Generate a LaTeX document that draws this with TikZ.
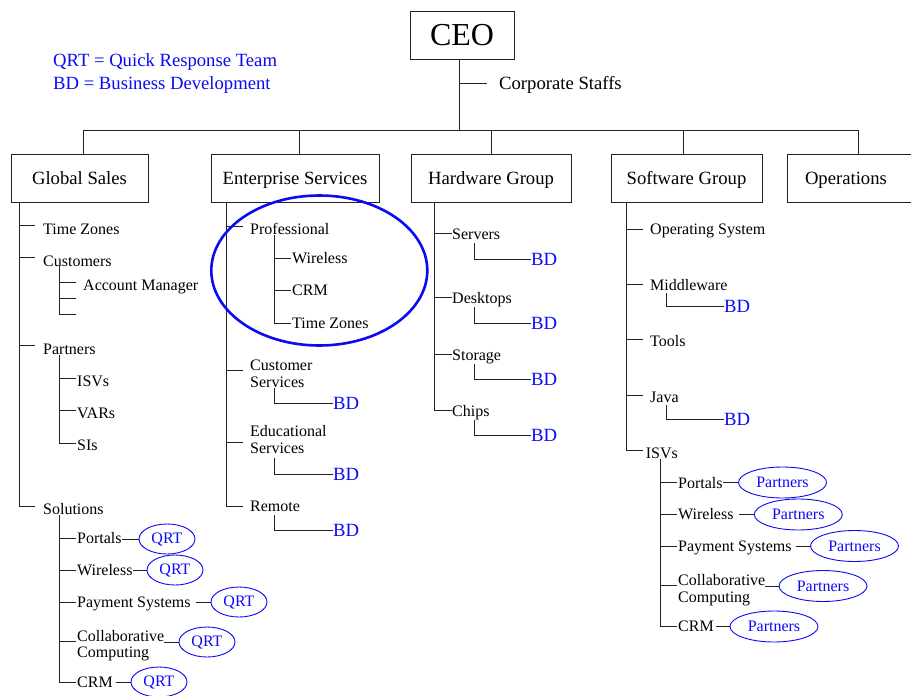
\documentclass[tikz,border=0pt]{standalone}
\usepackage{fontspec}
\setmainfont{Liberation Serif}
\usetikzlibrary{shapes.geometric}
\definecolor{ink}{RGB}{35,35,35}
\definecolor{hl}{RGB}{10,10,245}
\tikzset{
  ln/.style={draw=ink, line width=0.8pt},
  orgbox/.style={draw=ink, line width=1pt, minimum height=48pt, inner sep=0pt,
    font=\fontsize{18.67}{20}\selectfont, text height=12.7pt, text depth=0pt},
  lbl/.style={inner sep=0pt, anchor=base west, font=\fontsize{16}{16.5}\selectfont, align=left},
  big/.style={inner sep=0pt, anchor=base west, font=\fontsize{18.67}{23}\selectfont},
  bdtxt/.style={inner sep=0pt, anchor=west, text=hl, font=\fontsize{18.67}{20}\selectfont},
  qrt/.style={draw=hl, ellipse, line width=0.9pt, text=hl, minimum width=56pt,
    minimum height=30pt, inner sep=0pt, font=\fontsize{16}{17}\selectfont},
  prt/.style={qrt, minimum width=88pt, minimum height=31pt},
}
\begin{document}
\begin{tikzpicture}[x=1pt,y=-1pt]
\useasboundingbox (0,0) rectangle (911,696);

% legend
\node[big, text=hl] (leg1) at (53,66) {QRT = Quick Response Team};
\node[big, text=hl] (leg2) at (53,89) {BD = Business Development};

% top
\node[orgbox, minimum width=104pt, font=\fontsize{32}{34}\selectfont, text height=21pt] (ceo) at (462,35) {CEO};
\node[big] (corp) at (499,89) {Corporate Staffs};
\coordinate (bus) at (459,130);
\draw[ln] (bus |- ceo.south) -- (bus);
\draw[ln] (459,83) -- (487,83);
\draw[ln] (83,130) -- (858,130);

\node[orgbox, minimum width=137pt] (gs) at (79.5,178) {Global Sales};
\node[orgbox, minimum width=168pt] (es) at (295,178) {Enterprise Services};
\node[orgbox, minimum width=160pt] (hw) at (491,178) {Hardware Group};
\node[orgbox, minimum width=151pt] (sw) at (686.5,178) {Software Group};
\node[orgbox, minimum width=135pt, text width=99pt, align=left] (op) at (854.5,178) {Operations};
\draw[ln] (83,130) -- (83,130 |- gs.north);
\draw[ln] (299,130) -- (299,130 |- es.north);
\draw[ln] (491,130) -- (491,130 |- hw.north);
\draw[ln] (683,130) -- (683,130 |- sw.north);
\draw[ln] (858,130) -- (858,130 |- op.north);

% ---------------- Global Sales
\draw[ln] (19,0 |- gs.south) -- (19,506) -- (35,506);
\node[lbl] (gtz) at (43,234) {Time Zones};
\draw[ln] (19,225) -- (35,225);
\node[lbl] (gcu) at (43,266) {Customers};
\draw[ln] (19,257.7) -- (35,257.7);
\draw[ln] (59,266) -- (59,314.3) -- (75.5,314.3);
\draw[ln] (59,282) -- (75.5,282);
\draw[ln] (59,298.7) -- (75.5,298.7);
\node[lbl] (gam) at (83,290.7) {Account Manager};
\node[lbl] (gpa) at (43,354) {Partners};
\draw[ln] (19,345.7) -- (35,345.7);
\draw[ln] (59,355) -- (59,443) -- (76,443);
\draw[ln] (59,378.3) -- (76,378.3);
\draw[ln] (59,410) -- (76,410);
\node[lbl] (gisv) at (77,386) {ISVs};
\node[lbl] (gvar) at (77,418) {VARs};
\node[lbl] (gsi) at (77,450) {SIs};
\node[lbl] (gso) at (43,514) {Solutions};
\draw[ln] (59,515) -- (59,682.3) -- (76,682.3);
\foreach \y in {538.3,570,602.3,641.7} \draw[ln] (59,\y) -- (76,\y);
\node[lbl] (sp1) at (77,543.8) {Portals};
\node[lbl] (sp2) at (77,575.5) {Wireless};
\node[lbl] (sp3) at (77,607.8) {Payment Systems};
\node[lbl] (sp4) at (77,657.5) {Collaborative\\Computing};
\node[lbl] (sp5) at (77,687.8) {CRM};
\node[qrt] (q1) at (167,539) {QRT};
\node[qrt] (q2) at (175,570) {QRT};
\node[qrt] (q3) at (239,602) {QRT};
\node[qrt] (q4) at (207,642) {QRT};
\node[qrt] (q5) at (159,682) {QRT};
\draw[ln] (q1.west -| sp1.east) -- (q1.west);
\draw[ln] (q2.west -| sp2.east) -- (q2.west);
\draw[ln, shorten <=5.5pt] (q3.west -| sp3.east) -- (q3.west);
\draw[ln] (q4.west -| sp4.east) -- (q4.west);
\draw[ln, shorten <=2.7pt] (q5.west -| sp5.east) -- (q5.west);

% ---------------- Enterprise Services
\draw[ln] (226.7,0 |- es.south) -- (226.7,506) -- (242.7,506);
\node[lbl] (epr) at (250,234.3) {Professional};
\draw[ln] (226.7,226) -- (242.7,226);
\draw[ln] (274.7,235) -- (274.7,323.3) -- (290.7,323.3);
\draw[ln] (274.7,258.3) -- (290.7,258.3);
\draw[ln] (274.7,290) -- (290.7,290);
\node[lbl] (ewl) at (292,263.5) {Wireless};
\node[lbl] (ecrm) at (292,295.2) {CRM};
\node[lbl] (etz) at (292,328.5) {Time Zones};
\node[draw=hl, line width=2.6pt, ellipse, minimum width=216pt, minimum height=150pt] (ring) at (319.3,270.5) {};

\node[lbl] (ecs) at (250,387) {Customer\\Services};
\draw[ln] (226.7,370.7) -- (242.7,370.7);
\node[bdtxt] (bd1) at (333,403.3) {BD};
\draw[ln] (274.7,388.3) |- (bd1.west);
\node[lbl] (eed) at (250,453.2) {Educational\\Services};
\draw[ln] (226.7,442.3) -- (242.7,442.3);
\node[bdtxt] (bd2) at (333,474.3) {BD};
\draw[ln] (274.7,458.3) |- (bd2.west);
\node[lbl] (ere) at (250,511.7) {Remote};
\node[bdtxt] (bd3) at (333,530) {BD};
\draw[ln] (274.7,515) |- (bd3.west);

% ---------------- Hardware
\draw[ln] (434.3,0 |- hw.south) -- (434.3,410) -- (451.7,410);
\foreach \y in {233.3,297.7,354} \draw[ln] (434.3,\y) -- (451.7,\y);
\node[lbl] (hse) at (452,239.3) {Servers};
\node[lbl] (hde) at (452,303.7) {Desktops};
\node[lbl] (hst) at (452,360) {Storage};
\node[lbl] (hch) at (452,416) {Chips};
\node[bdtxt] (bd4) at (531,259.3) {BD};
\node[bdtxt] (bd5) at (531,323.3) {BD};
\node[bdtxt] (bd6) at (531,379.3) {BD};
\node[bdtxt] (bd7) at (531,435.7) {BD};
\draw[ln] (474.3,243.3) |- (bd4.west);
\draw[ln] (474.3,307.3) |- (bd5.west);
\draw[ln] (474.3,364) |- (bd6.west);
\draw[ln] (474.3,420) |- (bd7.west);

% ---------------- Software
\draw[ln] (626.7,0 |- sw.south) -- (626.7,450) -- (642.7,450);
\foreach \y in {229,284.3,339.3,395} \draw[ln] (626.7,\y) -- (642.7,\y);
\node[lbl] (sos) at (650,234.3) {Operating System};
\node[lbl] (smw) at (650,290.7) {Middleware};
\node[lbl] (sto) at (650,346) {Tools};
\node[lbl] (sja) at (650,402.3) {Java};
\node[bdtxt] (bd8) at (724,306.7) {BD};
\node[bdtxt] (bd9) at (724,419.3) {BD};
\draw[ln] (666.7,293) |- (bd8.west);
\draw[ln] (666.7,405) |- (bd9.west);
\node[lbl] (sisv) at (645.7,458.3) {ISVs};
\draw[ln] (660,459) -- (660,626) -- (676.7,626);
\foreach \y in {482.3,514,546,585.7} \draw[ln] (660,\y) -- (676.7,\y);
\node[lbl] (ip1) at (678,488) {Portals};
\node[lbl] (ip2) at (678,519.5) {Wireless};
\node[lbl] (ip3) at (678,551.5) {Payment Systems};
\node[lbl] (ip4) at (678,602) {Collaborative\\Computing};
\node[lbl] (ip5) at (678,631.5) {CRM};
\node[prt] (p1) at (782.5,482.5) {Partners};
\node[prt] (p2) at (798.3,514.5) {Partners};
\node[prt] (p3) at (854.5,546) {Partners};
\node[prt] (p4) at (823,586) {Partners};
\node[prt] (p5) at (774,626.5) {Partners};
\draw[ln] (p1.west -| ip1.east) -- (p1.west);
\draw[ln, shorten <=5pt] (p2.west -| ip2.east) -- (p2.west);
\draw[ln, shorten <=4pt] (p3.west -| ip3.east) -- (p3.west);
\draw[ln] (p4.west -| ip4.east) -- (p4.west);
\draw[ln, shorten <=2.3pt] (p5.west -| ip5.east) -- (p5.west);
\end{tikzpicture}
\end{document}
